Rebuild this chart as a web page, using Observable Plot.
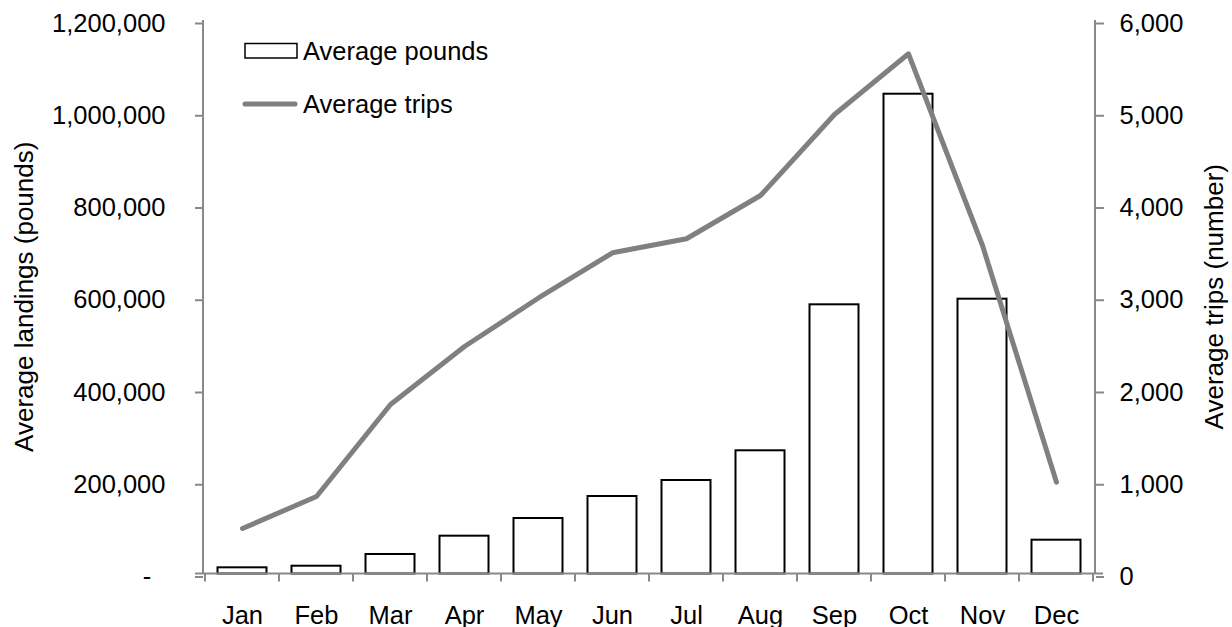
<!DOCTYPE html>
<html>
<head>
<meta charset="utf-8">
<script src="https://cdn.jsdelivr.net/npm/d3@7"></script>
<script src="https://cdn.jsdelivr.net/npm/@observablehq/plot@0.6"></script>
<style>
  html, body { margin: 0; padding: 0; background: #fff; }
  #chart { width: 1232px; height: 627px; }
</style>
</head>
<body>
<div id="chart"></div>
<script>
const months = ["Jan","Feb","Mar","Apr","May","Jun","Jul","Aug","Sep","Oct","Nov","Dec"];
const avgPounds = [13400, 16900, 42300, 82000, 120300, 168000, 202700, 267100, 583600, 1040200, 595800, 73300];
const avgTrips = [493, 840, 1837, 2466, 2992, 3482, 3634, 4103, 4981, 5639, 3561, 995];
const leftTicks = [0, 200000, 400000, 600000, 800000, 1000000, 1200000];
const rightTicks = [0, 1000, 2000, 3000, 4000, 5000, 6000];
const leftTitle = "Average landings (pounds)";
const rightTitle = "Average trips (number)";
const seriesNames = ["Average pounds", "Average trips"];

const ratio = leftTicks[leftTicks.length - 1] / rightTicks[rightTicks.length - 1];
const data = months.map((m, i) => ({month: m, pounds: avgPounds[i], trips: avgTrips[i]}));

const FONT = "'Liberation Sans', Arial, sans-serif";
const FS = 25.5;
const AXIS = "#898989";
const LINE = "#808080";
const fmt = d3.format(",");

function decorations(index, scales, values, dims) {
  const x = scales.x, y = scales.y;
  const g = d3.create("svg:g");
  const left = dims.marginLeft, right = dims.width - dims.marginRight;
  const top = dims.marginTop, bottom = dims.height - dims.marginBottom;
  const bw = x.bandwidth ? x.bandwidth() : (right - left) / months.length;
  // axis lines
  g.append("line").attr("x1", left).attr("x2", left).attr("y1", top).attr("y2", bottom)
    .attr("stroke", AXIS).attr("stroke-width", 2);
  g.append("line").attr("x1", right).attr("x2", right).attr("y1", top).attr("y2", bottom)
    .attr("stroke", AXIS).attr("stroke-width", 2);
  g.append("line").attr("x1", left - 8).attr("x2", right + 8).attr("y1", y(0)).attr("y2", y(0))
    .attr("stroke", AXIS).attr("stroke-width", 2);
  // category boundary ticks
  const bounds = months.map(m => x(m)).concat([x(months[months.length - 1]) + bw]);
  for (const bx of bounds) {
    g.append("line").attr("x1", bx).attr("x2", bx).attr("y1", y(0)).attr("y2", y(0) + 8)
      .attr("stroke", AXIS).attr("stroke-width", 2);
  }
  // axis titles
  g.append("text").attr("transform", `translate(33,${(top + bottom) / 2}) rotate(-90)`)
    .attr("text-anchor", "middle").attr("font-family", FONT).attr("font-size", 26)
    .attr("fill", "#000").text(leftTitle);
  g.append("text").attr("transform", `translate(1222.5,${(top + bottom) / 2}) rotate(-90)`)
    .attr("text-anchor", "middle").attr("font-family", FONT).attr("font-size", 26)
    .attr("fill", "#000").text(rightTitle);
  // legend
  g.append("rect").attr("x", 245).attr("y", 43.5).attr("width", 52).attr("height", 14.5)
    .attr("fill", "white").attr("stroke", "#000").attr("stroke-width", 1.5);
  g.append("text").attr("x", 303).attr("y", 59.5).attr("text-anchor", "start")
    .attr("font-family", FONT).attr("font-size", FS)
    .attr("fill", "#000").text(seriesNames[0]);
  g.append("line").attr("x1", 245).attr("x2", 295).attr("y1", 104).attr("y2", 104)
    .attr("stroke", LINE).attr("stroke-width", 5).attr("stroke-linecap", "round");
  g.append("text").attr("x", 303).attr("y", 112.5).attr("text-anchor", "start")
    .attr("font-family", FONT).attr("font-size", FS)
    .attr("fill", "#000").text(seriesNames[1]);
  return g.node();
}

const chart = Plot.plot({
  width: 1232,
  height: 627,
  marginLeft: 203,
  marginRight: 137,
  marginTop: 20,
  marginBottom: 53.5,
  style: {fontFamily: FONT, fontSize: FS + "px", color: "#000", background: "#fff", overflow: "visible"},
  x: {domain: months, padding: 0, axis: null},
  y: {domain: [0, leftTicks[leftTicks.length - 1]], axis: null},
  marks: [
    Plot.barY(data, {x: "month", y: "pounds", fill: "white", stroke: "#000", strokeWidth: 2,
      insetLeft: 12.5, insetRight: 12.5}),
    decorations,
    Plot.axisY(leftTicks, {anchor: "left", tickSize: 8, tickPadding: 30, stroke: AXIS, strokeWidth: 2,
      fill: "#000", fontSize: FS, dy: 3, label: null,
      tickFormat: d => d === 0 ? "-\u00a0\u00a0" : fmt(d)}),
    Plot.axisY(rightTicks.map(d => d * ratio), {anchor: "right", tickSize: 8, tickPadding: 16, stroke: AXIS,
      strokeWidth: 2, fill: "#000", fontSize: FS, dy: 3, label: null,
      tickFormat: d => fmt(Math.round(d / ratio))}),
    Plot.axisX({anchor: "bottom", tickSize: 0, tickPadding: 31.5, fill: "#000", fontSize: FS, label: null}),
    Plot.line(data, {x: "month", y: d => d.trips * ratio, stroke: LINE, strokeWidth: 5,
      strokeLinecap: "round", strokeLinejoin: "round"})
  ]
});
document.getElementById("chart").appendChild(chart);
</script>
</body>
</html>
